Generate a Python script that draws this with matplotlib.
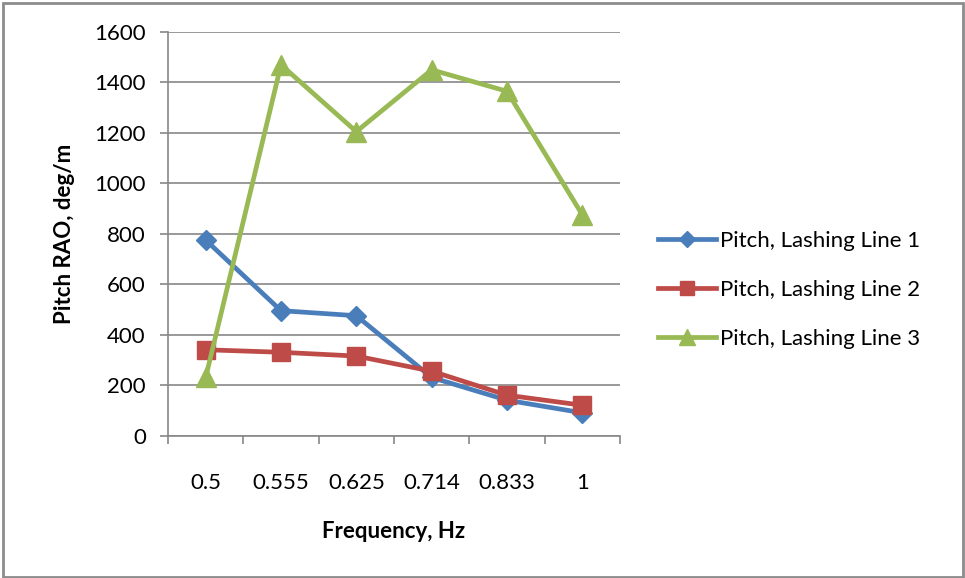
import matplotlib
matplotlib.use("Agg")
import matplotlib.pyplot as plt
from matplotlib.patches import Rectangle

plt.rcParams['font.family'] = ['Lato', 'DejaVu Sans']

frequencies = ["0.5", "0.555", "0.625", "0.714", "0.833", "1"]
lashing_line_1 = [775, 495, 475, 230, 140, 90]
lashing_line_2 = [340, 330, 315, 255, 160, 120]
lashing_line_3 = [230, 1470, 1205, 1450, 1365, 875]
series_names = ["Pitch, Lashing Line 1", "Pitch, Lashing Line 2", "Pitch, Lashing Line 3"]
y_ticks = [0, 200, 400, 600, 800, 1000, 1200, 1400, 1600]

fig = plt.figure(figsize=(9.65, 5.78), dpi=100)
ax = fig.add_axes([168 / 965, 1 - 435.5 / 578, (620 - 168) / 965, (435.5 - 32) / 578])

x = list(range(len(frequencies)))
styles = [
    dict(color="#4A7EBB", marker="D", markersize=10),
    dict(color="#BE4B48", marker="s", markersize=13),
    dict(color="#98B954", marker="^", markersize=14),
]
for vals, name, st in zip([lashing_line_1, lashing_line_2, lashing_line_3], series_names, styles):
    ax.plot(x, vals, color=st["color"], linewidth=3.4, marker=st["marker"],
            markersize=st["markersize"], markerfacecolor=st["color"],
            markeredgecolor=st["color"], label=name, zorder=3, clip_on=False)

ax.set_xlim(-0.5, len(frequencies) - 0.5)
ax.set_ylim(0, 1600)
ax.set_yticks(y_ticks)
ax.set_yticklabels([str(v) for v in y_ticks])
ax.yaxis.grid(True, color="#888888", linewidth=1.2)
ax.set_axisbelow(True)

# category labels at centres, tick marks at category boundaries
ax.set_xticks(x)
ax.set_xticklabels(frequencies)
ax.set_xticks([i - 0.5 for i in range(len(frequencies) + 1)], minor=True)
ax.tick_params(axis="x", which="major", length=0, pad=27, labelsize=16, colors="#000000")
ax.tick_params(axis="x", which="minor", length=6, width=1.2, color="#888888", direction="out")
ax.tick_params(axis="y", length=6, width=1.2, color="#888888", pad=10, labelsize=16)

for side in ["top", "right"]:
    ax.spines[side].set_visible(False)
for side in ["left", "bottom"]:
    ax.spines[side].set_color("#888888")
    ax.spines[side].set_linewidth(1.2)

ax.set_ylabel("Pitch RAO, deg/m", fontsize=16, fontweight="bold", labelpad=14)
ax.set_xlabel("Frequency, Hz", fontsize=16, fontweight="bold", labelpad=20)

leg = ax.legend(loc="center left", bbox_to_anchor=(658 / 965, 1 - 290 / 578),
                bbox_transform=fig.transFigure, frameon=False, fontsize=16,
                handlelength=2.6, handletextpad=0.2, labelspacing=1.3,
                borderaxespad=0, borderpad=0)
for h in leg.legend_handles:
    h.set_markersize(h.get_markersize() * 0.8)

# chart border
fig.patches.append(Rectangle((3 / 965, 1.5 / 578), 960 / 965, 574 / 578,
                             transform=fig.transFigure, fill=False,
                             edgecolor="#8c8c8c", linewidth=2))

fig.savefig("out.png", dpi=100)
